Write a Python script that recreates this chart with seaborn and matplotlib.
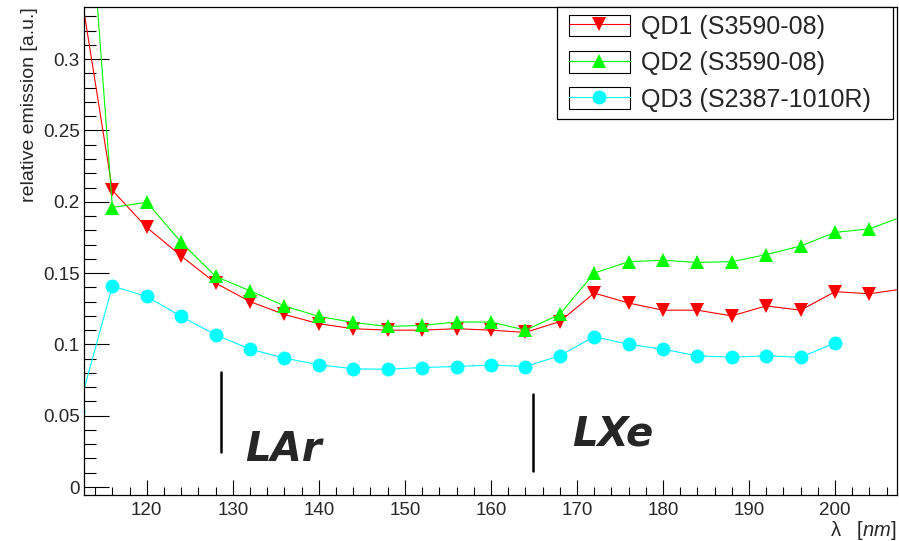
import numpy as np
import pandas as pd
import seaborn as sns
import matplotlib.pyplot as plt
from matplotlib.ticker import MultipleLocator, FuncFormatter
from matplotlib.legend_handler import HandlerLine2D
from matplotlib.patches import Rectangle

# wavelengths [nm]
wl = [112, 116, 120, 124, 128, 132, 136, 140, 144, 148, 152, 156, 160, 164,
      168, 172, 176, 180, 184, 188, 192, 196, 200, 204, 208]

qd1 = [0.360, 0.208, 0.182, 0.162, 0.143, 0.130, 0.121, 0.1145, 0.111, 0.110,
       0.110, 0.111, 0.110, 0.1084, 0.116, 0.136, 0.129, 0.124, 0.124, 0.120,
       0.127, 0.124, 0.137, 0.1355, 0.139]
qd2 = [0.52, 0.196, 0.1997, 0.1716, 0.1477, 0.1376, 0.127, 0.1196, 0.1154,
       0.1126, 0.1133, 0.1157, 0.1157, 0.110, 0.121, 0.150, 0.158, 0.159,
       0.1575, 0.158, 0.163, 0.169, 0.1786, 0.181, 0.190]
# QD3 measured only up to 200 nm
wl3 = wl[:23]
qd3 = [0.053, 0.141, 0.1336, 0.1196, 0.1067, 0.0967, 0.0904, 0.0857, 0.0829,
       0.0826, 0.0838, 0.0845, 0.0855, 0.0845, 0.092, 0.1055, 0.100, 0.0967,
       0.092, 0.091, 0.092, 0.091, 0.101]

labels = ['QD1 (S3590-08)', 'QD2 (S3590-08)', 'QD3 (S2387-1010R)']

# scintillation peaks of the noble liquids
lar_line = (128.6, 0.0246, 0.0809)
lxe_line = (164.9, 0.0112, 0.0653)

df12 = pd.DataFrame({'wl': wl, 'qd1': qd1, 'qd2': qd2})
df3 = pd.DataFrame({'wl': wl3, 'qd3': qd3})

sns.set_style('white')
plt.rcParams['font.family'] = ['Liberation Sans', 'DejaVu Sans']
plt.rcParams['mathtext.fontset'] = 'custom'
plt.rcParams['mathtext.rm'] = 'Liberation Sans'
plt.rcParams['mathtext.it'] = 'Liberation Sans:italic'

fig = plt.figure(figsize=(8.99, 5.41), dpi=100)
ax = fig.add_axes([84 / 899, 1 - 495 / 541, 813 / 899, 488 / 541])

sns.lineplot(data=df12, x='wl', y='qd1', ax=ax, color='#ff0000', linewidth=0.8,
             marker='v', markersize=9.5, markeredgewidth=0, label=labels[0])
sns.lineplot(data=df12, x='wl', y='qd2', ax=ax, color='#00ff00', linewidth=0.8,
             marker='^', markersize=9.5, markeredgewidth=0, label=labels[1])
sns.lineplot(data=df3, x='wl', y='qd3', ax=ax, color='#00ffff', linewidth=0.8,
             marker='o', markersize=10, markeredgewidth=0, label=labels[2])

# LAr / LXe markers
ax.plot([lar_line[0]] * 2, lar_line[1:], color='black', linewidth=1.8)
ax.plot([lxe_line[0]] * 2, lxe_line[1:], color='black', linewidth=1.8)
ax.text(131.4, 0.026, 'LAr', fontsize=29, fontweight='bold', fontstyle='italic',
        family='DejaVu Sans', ha='left', va='center')
ax.text(169.4, 0.037, 'LXe', fontsize=29, fontweight='bold', fontstyle='italic',
        family='DejaVu Sans', ha='left', va='center')

ax.set_xlim(112.7, 207.2)
ax.set_ylim(-0.0056, 0.3366)

ax.set_xticks(np.arange(120, 201, 10))
ax.xaxis.set_minor_locator(MultipleLocator(2))
ax.set_yticks([0, 0.05, 0.1, 0.15, 0.2, 0.25, 0.3])
ax.yaxis.set_minor_locator(MultipleLocator(0.01))
ax.yaxis.set_major_formatter(FuncFormatter(lambda v, p: '%g' % v))

ax.tick_params(axis='x', which='major', direction='in', length=10.8, width=0.8,
               labelsize=13.5, pad=5, bottom=True, top=False, color='black')
ax.tick_params(axis='x', which='minor', direction='in', length=5.5, width=0.8,
               bottom=True, top=False, color='black')
ax.tick_params(axis='y', which='major', direction='in', length=18, width=0.8,
               labelsize=13.5, pad=3, left=True, right=False, color='black')
ax.tick_params(axis='y', which='minor', direction='in', length=8.6, width=0.8,
               left=True, right=False, color='black')

for sp in ax.spines.values():
    sp.set_color('black')
    sp.set_linewidth(0.9)

ax.set_xlabel(r'λ   [$nm$]', loc='right', fontsize=14.5, labelpad=0)
ax.set_ylabel('relative emission [a.u.]', loc='top', fontsize=14, labelpad=4)


class BoxedLine(HandlerLine2D):
    def create_artists(self, legend, orig_handle, xdescent, ydescent, width,
                       height, fontsize, trans):
        pad = 0.18 * fontsize
        arts = super().create_artists(legend, orig_handle, xdescent - pad, ydescent,
                                      width - pad, height, fontsize, trans)
        box = Rectangle((-xdescent + pad, -ydescent), width - pad, height, fill=False,
                        edgecolor='black', linewidth=0.8, transform=trans)
        return [box] + arts


handles, labs = ax.get_legend_handles_labels()
leg = ax.legend(handles, labs, loc='upper left', bbox_to_anchor=(0.582, 0.7746, 0.413, 0.2254),
                mode='expand', borderaxespad=0, fontsize=18, numpoints=1,
                handlelength=2.6, handleheight=0.96, handletextpad=0.45,
                labelspacing=0.48, borderpad=0.3, fancybox=False, framealpha=1,
                edgecolor='black', handler_map={h: BoxedLine() for h in handles})
leg.get_frame().set_linewidth(0.9)

plt.savefig('out.png', dpi=100)
